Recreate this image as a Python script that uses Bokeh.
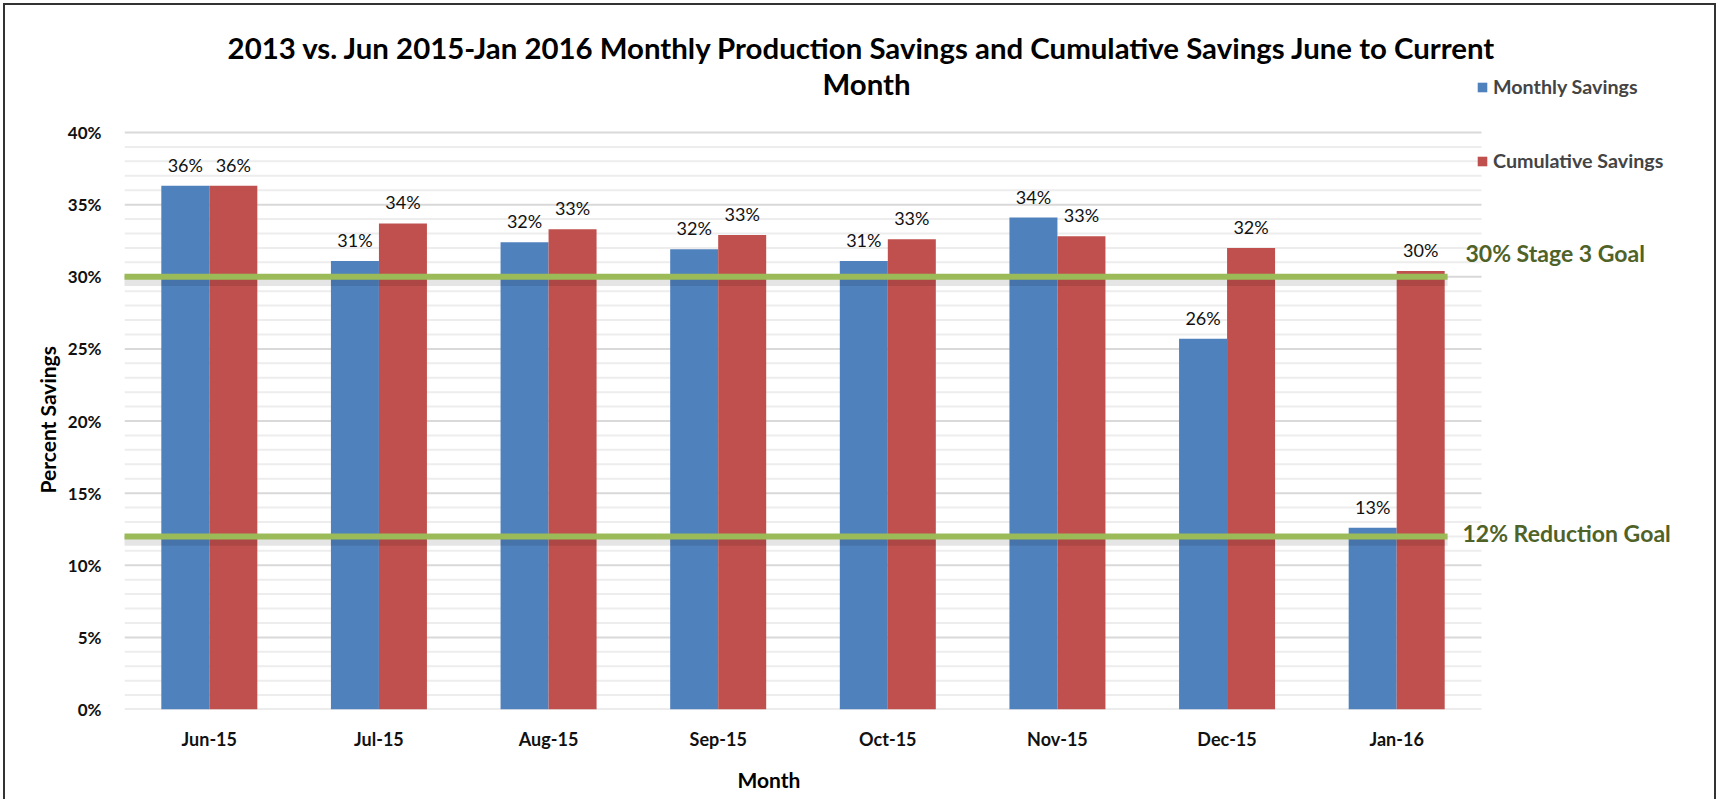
from bokeh.plotting import figure
from bokeh.models import (Range1d, FixedTicker, PrintfTickFormatter, Label, Title,
                          LabelSet, ColumnDataSource, Legend, LegendItem)
from bokeh.core.properties import value
from bokeh.embed import file_html
from bokeh.resources import INLINE

# ---------------- data ----------------
months = ["Jun-15", "Jul-15", "Aug-15", "Sep-15", "Oct-15", "Nov-15", "Dec-15", "Jan-16"]
monthly_savings = [36.3, 31.1, 32.4, 31.9, 31.1, 34.1, 25.7, 12.6]
cumulative_savings = [36.3, 33.7, 33.3, 32.9, 32.6, 32.8, 32.0, 30.4]
goal_values = [30, 12]
goal_labels = ["30% Stage 3 Goal", "12% Reduction Goal"]
y_major_ticks = [0, 5, 10, 15, 20, 25, 30, 35, 40]
y_minor_ticks = [v for v in range(1, 40) if v % 5 != 0]
title_line1 = "2013 vs. Jun 2015-Jan 2016 Monthly Production Savings and Cumulative Savings June to Current"
title_line2 = "Month"
x_title = "Month"
y_title = "Percent Savings"

FONT = "Lato"
BLUE = "#4F81BD"
RED = "#C0504D"
GREEN = "#9BBB59"
GOAL_TEXT = "#4F6228"

# ---------------- layout (pixels) ----------------
W, H = 1719, 808
FRAME_LEFT, FRAME_RIGHT = 124, 1709
FRAME_TOP, FRAME_BOTTOM = 12, 709
Y_TOP_PX = 132                      # where 40% sits
CAT_PX = (1481 - FRAME_LEFT) / len(months)
Y_MAX_PCT = max(y_major_ticks)
YMAX = Y_MAX_PCT * (FRAME_BOTTOM - FRAME_TOP) / (FRAME_BOTTOM - Y_TOP_PX)
XMAX = (FRAME_RIGHT - FRAME_LEFT) / CAT_PX

n = len(months)
bw = 0.283
centers = [i + 0.5 for i in range(n)]

src = ColumnDataSource(dict(
    xm=[c - bw / 2 for c in centers],
    xc=[c + bw / 2 for c in centers],
    monthly=monthly_savings,
    cumulative=cumulative_savings,
    mlab=[f"{round(v)}%" for v in monthly_savings],
    clab=[f"{round(v)}%" for v in cumulative_savings],
))

p = figure(x_range=Range1d(0, XMAX), y_range=Range1d(0, YMAX),
           width=W, height=H, output_backend="svg", toolbar_location=None,
           min_border_left=FRAME_LEFT, min_border_right=W - FRAME_RIGHT,
           min_border_top=FRAME_TOP, min_border_bottom=H - FRAME_BOTTOM)
p.outline_line_color = None
p.background_fill_color = "white"
p.border_fill_color = None
p.xgrid.visible = False
p.ygrid.visible = False
p.styles = {"outline": "2px solid #333333", "outline-offset": "-5px",
            "clip-path": "inset(0px 0px 9px 0px)", "background-color": "white"}

# grid lines (limited to the plotting area of the categories)
p.segment(x0=[0] * len(y_minor_ticks), x1=[n] * len(y_minor_ticks),
          y0=y_minor_ticks, y1=y_minor_ticks, line_color="#EDEDED", line_width=2)
p.segment(x0=[0] * len(y_major_ticks), x1=[n] * len(y_major_ticks),
          y0=y_major_ticks, y1=y_major_ticks, line_color="#D9D9D9", line_width=2)

r1 = p.vbar(x="xm", top="monthly", width=bw, fill_color=BLUE, line_color=None, source=src)
r2 = p.vbar(x="xc", top="cumulative", width=bw, fill_color=RED, line_color=None, source=src)

# goal lines (with soft shadow)
for g in goal_values:
    p.segment(x0=[-0.02], x1=[n - 0.2], y0=[g - 0.3], y1=[g - 0.3],
              line_color="black", line_alpha=0.10, line_width=10)
    p.segment(x0=[-0.02], x1=[n - 0.2], y0=[g], y1=[g],
              line_color=GREEN, line_width=6)

# data labels
for xf, field, lab in (("xm", "monthly", "mlab"), ("xc", "cumulative", "clab")):
    p.add_layout(LabelSet(x=xf, y=field, text=lab, source=src,
                          y_offset=21, text_align="center", text_baseline="middle",
                          text_font=value(FONT), text_font_size="18px",
                          text_color="#111111"))

# goal labels
p.add_layout(Label(x=1465 - FRAME_LEFT, x_units="screen", y=goal_values[0], y_units="data",
                   y_offset=24, text=goal_labels[0], text_baseline="middle", text_font=FONT,
                   text_font_style="bold", text_font_size="23px", text_color=GOAL_TEXT))
p.add_layout(Label(x=1462 - FRAME_LEFT, x_units="screen", y=goal_values[1], y_units="data",
                   y_offset=3, text=goal_labels[1], text_baseline="middle", text_font=FONT,
                   text_font_style="bold", text_font_size="23px", text_color=GOAL_TEXT))

# chart title (two lines)
p.add_layout(Label(x=862 - FRAME_LEFT, y=FRAME_BOTTOM - 47, x_units="screen", y_units="screen",
                   text=title_line1, text_align="center", text_baseline="middle",
                   text_font=FONT, text_font_style="bold", text_font_size="29.4px",
                   text_color="black"))
p.add_layout(Label(x=866 - FRAME_LEFT, y=FRAME_BOTTOM - 83, x_units="screen", y_units="screen",
                   text=title_line2, text_align="center", text_baseline="middle",
                   text_font=FONT, text_font_style="bold", text_font_size="29.4px",
                   text_color="black"))

# legend
legend = Legend(items=[LegendItem(label="Monthly Savings", renderers=[r1]),
                       LegendItem(label="Cumulative Savings", renderers=[r2])],
                location=(1476 - FRAME_LEFT, FRAME_BOTTOM - 172), orientation="vertical",
                glyph_width=12, glyph_height=12, spacing=51, padding=0, margin=0,
                border_line_color=None, background_fill_alpha=0,
                label_text_font=FONT, label_text_font_style="bold",
                label_text_font_size="19.7px", label_standoff=5, label_height=22)
p.add_layout(legend)

# axes
p.yaxis.ticker = FixedTicker(ticks=y_major_ticks)
p.yaxis.formatter = PrintfTickFormatter(format="%d%%")
p.yaxis.axis_line_color = None
p.yaxis.major_tick_line_color = None
p.yaxis.minor_tick_line_color = None
p.yaxis.major_label_standoff = 17
p.yaxis.major_label_text_font = FONT
p.yaxis.major_label_text_font_style = "bold"
p.yaxis.major_label_text_font_size = "17px"
p.yaxis.major_label_text_color = "#111111"

p.xaxis.ticker = FixedTicker(ticks=centers)
p.xaxis.major_label_overrides = {c: m for c, m in zip(centers, months)}
p.xaxis.axis_line_color = None
p.xaxis.major_tick_line_color = None
p.xaxis.minor_tick_line_color = None
p.xaxis.major_label_standoff = 12
p.xaxis.major_label_text_font = FONT
p.xaxis.major_label_text_font_style = "bold"
p.xaxis.major_label_text_font_size = "18px"
p.xaxis.major_label_text_color = "#111111"

# axis titles, positioned along the category / value span
p.add_layout(Title(text=y_title, align="left", offset=709 - 493, standoff=10,
                   text_font=FONT, text_font_style="bold", text_font_size="21px",
                   text_color="black"), "left")
p.add_layout(Title(text=x_title, align="left", offset=737 - FRAME_LEFT, standoff=28,
                   vertical_align="top", text_font=FONT, text_font_style="bold",
                   text_font_size="21px", text_color="black"), "below")

open("out.html", "w").write(file_html(p, INLINE))
